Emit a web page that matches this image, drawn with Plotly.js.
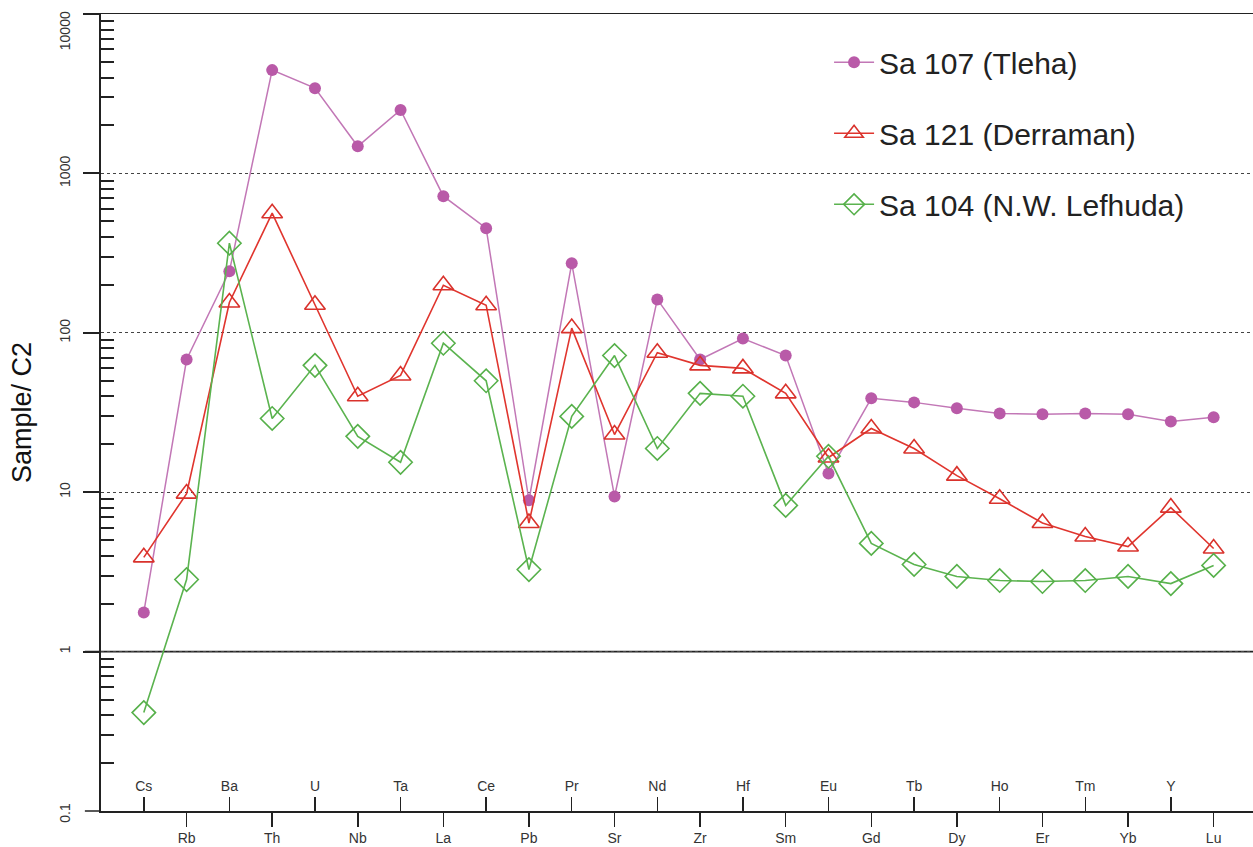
<!DOCTYPE html>
<html>
<head>
<meta charset="utf-8">
<script src="https://cdn.plot.ly/plotly-3.0.1.min.js"></script>
<style>html,body{margin:0;padding:0;background:#fff;}#chart{width:1253px;height:847px;}</style>
</head>
<body>
<div id="chart"></div>
<script>
// Elements (categories)
const elements = ["Cs","Rb","Ba","Th","U","Nb","Ta","La","Ce","Pb","Pr","Sr","Nd","Zr","Hf","Sm","Eu","Gd","Tb","Dy","Ho","Er","Tm","Yb","Y","Lu"];
// Sample / C2 values
const sa107 = [1.76,68,243,4450,3430,1480,2500,720,453,8.9,273,9.4,162,68,92,72,13.1,38.8,36.6,33.6,31.2,30.8,31.2,30.8,27.8,29.5];
const sa121 = [3.9,9.8,155,563,150,40,54,199,149,6.4,107,23,75,62.5,59.8,41.7,16.5,25.1,18.8,12.7,9.1,6.4,5.27,4.56,8.0,4.43];
const sa104 = [0.414,2.83,365,29,62.5,22.4,15.4,86,50,3.27,29.9,72,18.8,41.7,40,8.26,16.8,4.77,3.52,2.96,2.79,2.75,2.79,2.96,2.67,3.47];
const seriesNames = ["Sa 107 (Tleha)","Sa 121 (Derraman)","Sa 104 (N.W. Lefhuda)"];
const yTickVals = [0.1,1,10,100,1000,10000];
const yTickText = ["0.1","1","10","100","1000","10000"];

const idx = elements.map((_, i) => i);
const lowerIdx = idx.filter(i => i % 2 === 1);
const upperIdx = idx.filter(i => i % 2 === 0);

const minorVals = [];
for (let d = -1; d < 4; d++) for (let m = 2; m <= 9; m++) minorVals.push(m * Math.pow(10, d));

const FONT = "Liberation Sans, Arial, sans-serif";
const lastTick = yTickText.length - 1;

const traces = [
  {x: idx, y: sa107, name: seriesNames[0], legendgroup: "a", mode: "lines+markers",
   line: {color: "#c277b6", width: 1.5}, marker: {symbol: "circle", size: 12, color: "#b95aa8"}},
  {x: idx, y: sa121, name: seriesNames[1], legendgroup: "b", mode: "lines+markers",
   line: {color: "#e0352e", width: 1.6}, marker: {symbol: "triangle-up-open", size: 18, color: "#d9322c", line: {width: 1.6}}},
  {x: idx, y: sa104, name: seriesNames[2], legendgroup: "c", mode: "lines+markers", xaxis: "x2",
   line: {color: "#5bb34f", width: 1.6}, marker: {symbol: "diamond-open", size: 18, color: "#56b04a", line: {width: 1.6}}}
];

const layout = {
  width: 1253, height: 847,
  margin: {l: 101, r: 0, t: 14, b: 36},
  paper_bgcolor: "#fff", plot_bgcolor: "#fff",
  font: {family: FONT, color: "#333"},
  showlegend: true,
  legend: {x: 0.632, y: 0.972, xanchor: "left", yanchor: "top", bgcolor: "rgba(0,0,0,0)",
           font: {size: 30, color: "#222", family: FONT}, tracegroupgap: 29, itemwidth: 40},
  xaxis: {
    range: [-1, 25.92], showgrid: false, zeroline: false,
    tickmode: "array", tickvals: lowerIdx, ticktext: lowerIdx.map(i => elements[i]),
    ticks: "outside", ticklen: 14, tickwidth: 1.5, tickcolor: "#222",
    showline: true, linecolor: "#222", linewidth: 1.5, mirror: true,
    tickfont: {size: 14, color: "#333"}
  },
  xaxis2: {
    overlaying: "x", matches: "x", side: "bottom", showgrid: false, zeroline: false,
    tickmode: "array", tickvals: upperIdx, ticktext: upperIdx.map(i => elements[i]),
    ticks: "inside", ticklen: 14, tickwidth: 1.5, tickcolor: "#222",
    ticklabelposition: "inside", ticklabelstandoff: 3, showline: false,
    tickfont: {size: 14, color: "#333"}
  },
  yaxis: {
    type: "log", range: [-1.0005, 4.0005],
    tickmode: "array", tickvals: yTickVals,
    ticktext: yTickText.map((t, i) => (i === lastTick || i === 0) ? "" : t),
    ticklabeloverflow: "allow",
    tickangle: -90, tickfont: {size: 14, color: "#333"},
    ticks: "outside", ticklen: 16, tickwidth: 2, tickcolor: "#222",
    ticklabelstandoff: 7,
    showline: true, linecolor: "#222", linewidth: 2,
    showgrid: true, gridcolor: "#444", griddash: "dot", gridwidth: 1.3,
    zeroline: false,
    minor: {tickmode: "array", tickvals: minorVals, ticks: "inside", ticklen: 13, tickwidth: 2, tickcolor: "#222", showgrid: false},
    title: {text: "Sample/ C2", font: {size: 27, color: "#111", family: FONT}, standoff: 18}
  },
  annotations: [
    {text: yTickText[lastTick], xref: "paper", yref: "paper", x: -0.0315, y: 1, xanchor: "center", yanchor: "top",
     yshift: 5, textangle: -90, showarrow: false, font: {size: 14, color: "#333", family: FONT}},
    {text: yTickText[0], xref: "paper", yref: "paper", x: -0.0315, y: 0, xanchor: "center", yanchor: "middle",
     yshift: -2, textangle: -90, showarrow: false, font: {size: 14, color: "#333", family: FONT}}
  ],
  shapes: [
    {type: "line", xref: "paper", x0: -0.014, x1: 1, yref: "y", y0: 1, y1: 1, line: {color: "#222", width: 1.8}, layer: "below"},
    {type: "line", xref: "paper", x0: -0.014, x1: 0, yref: "paper", y0: 1, y1: 1, line: {color: "#222", width: 1.5}},
    {type: "line", xref: "paper", x0: -0.014, x1: 0, yref: "paper", y0: 0, y1: 0, line: {color: "#222", width: 1.5}}
  ]
};

Plotly.newPlot("chart", traces, layout, {displayModeBar: false, staticPlot: true});
</script>
</body>
</html>
